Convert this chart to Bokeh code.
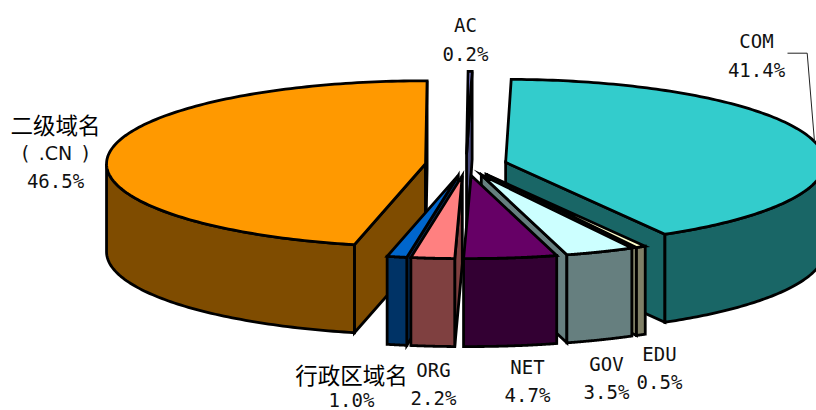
import numpy as np
from bokeh.core.properties import value
from bokeh.embed import file_html
from bokeh.models import Range1d
from bokeh.plotting import figure
from bokeh.resources import INLINE

# Domain-name share by type, clockwise from the first slice angle
categories = ["COM", "EDU", "GOV", "NET", "ORG", "行政区域名", "二级域名", "AC"]
shares = [41.4, 0.5, 3.5, 4.7, 2.2, 1.0, 46.5, 0.2]
top_colors = ["#33CCCC", "#FFFFCC", "#CCFFFF", "#660066", "#FF8080", "#0066CC", "#FF9900", "#9999FF"]

# Pie projection, in page pixels
CX, CY = 465.6, 164.5
RX, RY = 319.0, 83.0
DEPTH = 88.0
EXPLODE = 0.128
FIRST_ANGLE = 1.0
OUTLINE = 2.8

# Label blocks: centre x and the vertical middle of each line
label_layout = {
    "COM": (756, [40, 69]),
    "EDU": (659, [353, 381]),
    "GOV": (606, [363, 391]),
    "NET": (527, [366, 394]),
    "ORG": (433, [369, 397]),
    "行政区域名": (351, [373, 399.5]),
    "二级域名": (55, [123, 152, 180]),
    "AC": (465, [24, 53]),
}


def shade(hex_color):
    """Half-brightness colour for the side walls."""
    channels = [int(hex_color[i:i + 2], 16) // 2 for i in (1, 3, 5)]
    return "#%02x%02x%02x" % tuple(channels)


def project(apex, theta_deg):
    t = np.radians(theta_deg)
    return apex[0] + RX * np.sin(t), apex[1] - RY * np.cos(t)


p = figure(width=816, height=410, output_backend="svg", toolbar_location=None,
           x_range=Range1d(0, 816), y_range=Range1d(410, 0),
           x_axis_type=None, y_axis_type=None, min_border=0)
p.grid.visible = False
p.outline_line_color = None
p.background_fill_color = "white"
p.border_fill_color = "white"

edges = FIRST_ANGLE + np.concatenate([[0.0], np.cumsum(shares)]) * 3.6
slices = []
for i, name in enumerate(categories):
    t0, t1 = edges[i], edges[i + 1]
    mid = np.radians((t0 + t1) / 2)
    apex = (CX + EXPLODE * RX * np.sin(mid), CY - EXPLODE * RY * np.cos(mid))
    slices.append(dict(name=name, t0=t0, t1=t1, mid=mid, apex=apex, color=top_colors[i]))


def draw_patch(xs, ys, color):
    p.patch(list(xs), list(ys), fill_color=color, line_color="black",
            line_width=OUTLINE, line_join="miter")


# Paint from the back of the pie to the front
for s in sorted(slices, key=lambda s: -np.cos(s["mid"])):
    t0, t1, apex = s["t0"], s["t1"], s["apex"]
    wall = shade(s["color"])

    # Cut faces that turn towards the viewer
    for edge, visible in ((t0, np.sin(np.radians(t0)) < 0), (t1, np.sin(np.radians(t1)) > 0)):
        if visible:
            ex, ey = project(apex, edge)
            draw_patch([apex[0], ex, ex, apex[0]],
                       [apex[1], ey, ey + DEPTH, apex[1] + DEPTH], wall)

    # Curved outer wall on the near half of the rim
    a0, a1 = max(t0, 90.0), min(t1, 270.0)
    if a1 > a0:
        rim_x, rim_y = project(apex, np.linspace(a0, a1, 80))
        draw_patch(np.r_[rim_x, rim_x[::-1]], np.r_[rim_y, rim_y[::-1] + DEPTH], wall)

    # Top face
    top_x, top_y = project(apex, np.linspace(t0, t1, 160))
    draw_patch(np.r_[apex[0], top_x], np.r_[apex[1], top_y], s["color"])

# Leader line from the COM label to the rim at the middle of its slice
com = slices[0]
end_x, end_y = project(com["apex"], np.degrees(com["mid"]))
label_x, label_y = label_layout["COM"][0] + 31, label_layout["COM"][1][0] + 12.7
p.line([label_x, label_x + 19.7, end_x], [label_y, label_y, end_y],
       line_color="#222222", line_width=1)

# Labels: name line(s) above the percentage
for name, share in zip(categories, shares):
    x, rows = label_layout[name]
    lines = [name, f"{share:.1f}%"]
    if name == "二级域名":
        lines = [name, "(\u2002.CN\u2002)", f"{share:.1f}%"]
    for line, y in zip(lines, rows):
        cjk = any(0x2E80 < ord(ch) for ch in line)
        spaced = "\u2002" in line
        font = "Noto Sans CJK SC" if cjk else ("DejaVu Sans" if spaced else "DejaVu Sans Mono")
        p.text([x], [y], text=[line], text_align="center", text_baseline="middle",
               text_color="black" if cjk else "#111111",
               text_font=value(font),
               text_font_size="22.5px" if cjk else "19px")

open("out.html", "w").write(file_html(p, INLINE))
